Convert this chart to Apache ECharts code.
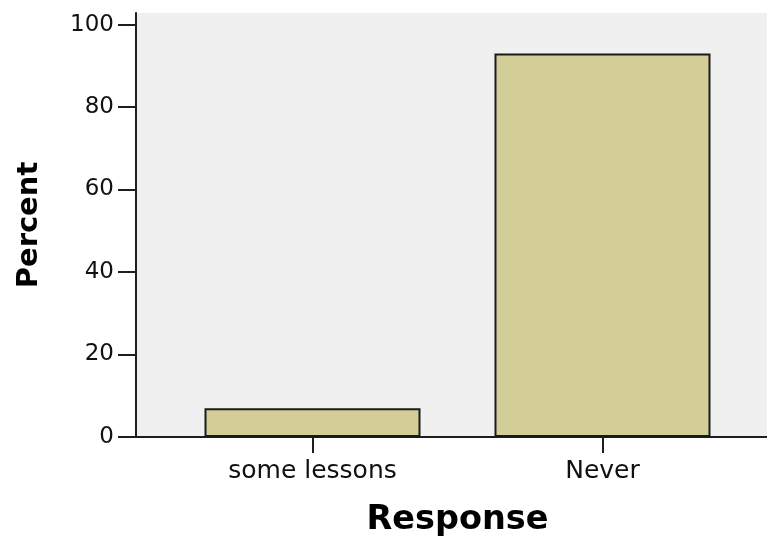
<!DOCTYPE html>
<html>
<head>
<meta charset="utf-8">
<script src="https://cdn.jsdelivr.net/npm/echarts@6/dist/echarts.min.js"></script>
<style>html,body{margin:0;padding:0;background:#fff;}#c{width:767px;height:536px;}</style>
</head>
<body>
<div id="c"></div>
<script>
const categories = ['some lessons', 'Never'];
const percentValues = [7, 93];
const yTickLabels = [0, 20, 40, 60, 80, 100];
const xAxisTitle = 'Response';
const yAxisTitle = 'Percent';

const yMax = 102.8;
const chart = echarts.init(document.getElementById('c'), null, {renderer: 'canvas'});
const lineColor = '#1e1e1e';
chart.setOption({
  animation: false,
  backgroundColor: '#ffffff',
  grid: [
    {left: 136, right: 0, top: 13, bottom: 99, show: true, backgroundColor: '#f0f0f0', borderWidth: 0,
     containLabel: false, outerBoundsMode: 'none'},
    {left: 167.5, right: 19.5, top: 13, bottom: 99, containLabel: false, outerBoundsMode: 'none'}
  ],
  xAxis: [
    {gridIndex: 0, type: 'value', min: 0, max: 1,
     axisLine: {show: true, onZero: false, lineStyle: {color: lineColor, width: 2}},
     axisTick: {show: false}, axisLabel: {show: false}, splitLine: {show: false}},
    {gridIndex: 1, type: 'category', data: categories,
     axisLine: {show: false, onZero: false},
     axisTick: {show: true, alignWithLabel: true, length: 16, lineStyle: {color: lineColor, width: 2}},
     axisLabel: {margin: 22, fontFamily: 'DejaVu Sans', fontSize: 25, color: '#111'},
     name: xAxisTitle, nameLocation: 'middle', nameGap: 66,
     nameTextStyle: {fontFamily: 'DejaVu Sans', fontWeight: 'bold', fontSize: 33.5, color: '#000'}}
  ],
  yAxis: [
    {gridIndex: 0, type: 'value', min: 0, max: yMax,
     axisLine: {show: true, onZero: false, lineStyle: {color: lineColor, width: 2}},
     axisTick: {show: true, length: 18, customValues: yTickLabels, lineStyle: {color: lineColor, width: 2}},
     axisLabel: {margin: 22, customValues: yTickLabels, fontFamily: 'DejaVu Sans', fontSize: 23, color: '#111'},
     splitLine: {show: false},
     name: yAxisTitle, nameLocation: 'middle', nameGap: 92, nameRotate: 90,
     nameTextStyle: {fontFamily: 'DejaVu Sans', fontWeight: 'bold', fontSize: 29, color: '#000'}},
    {gridIndex: 1, type: 'value', min: 0, max: yMax, show: false, splitLine: {show: false}}
  ],
  series: [{
    type: 'bar', xAxisIndex: 1, yAxisIndex: 1,
    data: percentValues, barWidth: 216,
    itemStyle: {color: '#d3ce97', borderColor: '#1a1a1a', borderWidth: 2}
  }]
});
</script>
</body>
</html>
